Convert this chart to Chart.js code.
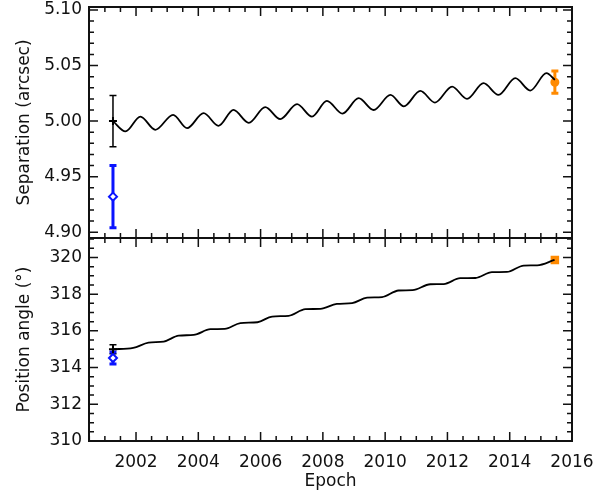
<!DOCTYPE html>
<html>
<head>
<meta charset="utf-8">
<script src="https://cdn.jsdelivr.net/npm/chart.js@4.4.0/dist/chart.umd.min.js"></script>
<style>
  html, body { margin: 0; padding: 0; background: #fff; }
  #wrap { position: relative; width: 609px; height: 492px; }
  #sepBox { position: absolute; left: 0; top: 0; width: 609px; height: 246px; }
  #paBox { position: absolute; left: 0; top: 230px; width: 609px; height: 262px; }
</style>
</head>
<body>
<div id="wrap">
  <div id="sepBox"><canvas id="sepChart"></canvas></div>
  <div id="paBox"><canvas id="paChart"></canvas></div>
</div>
<script>
// Orbit prediction, separation (arcsec) - at the wiggle extremes
const sepEpochs = [2001.26, 2001.66, 2002.14, 2002.62, 2003.19, 2003.64, 2004.17, 2004.65, 2005.13, 2005.62,
  2006.15, 2006.63, 2007.17, 2007.65, 2008.13, 2008.63, 2009.15, 2009.63, 2010.17, 2010.60,
  2011.13, 2011.60, 2012.15, 2012.63, 2013.16, 2013.64, 2014.18, 2014.66, 2015.18, 2015.45];
const sepValues = [5.000, 4.9907, 5.0041, 4.9922, 5.0057, 4.9937, 5.0072, 4.9958, 5.0101, 4.9985,
  5.0126, 5.0018, 5.0153, 5.0041, 5.0182, 5.0068, 5.0206, 5.0100, 5.0236, 5.0133,
  5.0272, 5.0167, 5.0311, 5.0200, 5.0341, 5.0236, 5.0386, 5.0275, 5.0431, 5.0371];

// Orbit prediction, position angle (deg)
const paEpochs = [2001.26, 2001.91, 2002.40, 2002.89, 2003.37, 2003.85, 2004.39, 2004.85, 2005.35, 2005.90,
  2006.37, 2006.90, 2007.44, 2007.92, 2008.45, 2008.94, 2009.42, 2009.90, 2010.43, 2010.88,
  2011.45, 2011.88, 2012.41, 2012.90, 2013.43, 2013.91, 2014.45, 2014.88, 2015.44];
const paValues = [315.00, 315.07, 315.36, 315.42, 315.74, 315.78, 316.09, 316.11, 316.42, 316.47,
  316.78, 316.82, 317.18, 317.20, 317.47, 317.51, 317.81, 317.84, 318.20, 318.22,
  318.54, 318.55, 318.87, 318.88, 319.20, 319.21, 319.56, 319.57, 319.87];

// Measurements: black, blue, orange
const obsEpochs = [2001.26, 2001.26, 2015.45];
const obsSep = [5.000, 4.932, 5.035];
const obsSepErr = [0.023, 0.028, 0.010];
const obsPA = [315.00, 314.52, 319.86];
const obsPAErr = [0.25, 0.33, 0.05];

// Tick labels
const epochTicks = [2002, 2004, 2006, 2008, 2010, 2012, 2014, 2016];
const sepTicks = [4.90, 4.95, 5.00, 5.05, 5.10];
const paTicks = [310, 312, 314, 316, 318, 320];

const FONT = { family: 'DejaVu Sans', size: 17 };
const INK = '#111';

// error bars, drawn under the markers
const errorBars = {
  id: 'errorBars',
  beforeDatasetsDraw(chart) {
    const { ctx, scales: { x, y } } = chart;
    ctx.save();
    chart.data.datasets.forEach(ds => {
      if (!ds.errors) return;
      ds.data.forEach((p, i) => {
        const px = x.getPixelForValue(p.x);
        const top = y.getPixelForValue(p.y + ds.errors[i]);
        const bot = y.getPixelForValue(p.y - ds.errors[i]);
        ctx.strokeStyle = ds.borderColor;
        ctx.lineWidth = ds.errWidth;
        ctx.beginPath();
        ctx.moveTo(px, top); ctx.lineTo(px, bot);
        ctx.moveTo(px - ds.capHalf, top); ctx.lineTo(px + ds.capHalf, top);
        ctx.moveTo(px - ds.capHalf, bot); ctx.lineTo(px + ds.capHalf, bot);
        ctx.stroke();
      });
    });
    ctx.restore();
  }
};

// IDL-style box with inward ticks on all four sides
const frameTicks = {
  id: 'frameTicks',
  afterDraw(chart, args, opts) {
    const { ctx, chartArea: a, scales: { x, y } } = chart;
    ctx.save();
    ctx.strokeStyle = INK;
    ctx.lineWidth = 1.5;
    const each = (scale, minor, major, fn) => {
      for (let k = Math.ceil(scale.min / minor - 1e-9); k * minor <= scale.max + 1e-9; k++) {
        const v = k * minor;
        const isMajor = Math.abs(v / major - Math.round(v / major)) < 1e-6;
        fn(scale.getPixelForValue(v), isMajor ? 9 : 5);
      }
    };
    ctx.beginPath();
    each(x, opts.xMinor, opts.xMajor, (p, len) => {
      ctx.moveTo(p, a.bottom); ctx.lineTo(p, a.bottom - len);
      ctx.moveTo(p, a.top); ctx.lineTo(p, a.top + len);
    });
    each(y, opts.yMinor, opts.yMajor, (p, len) => {
      ctx.moveTo(a.left, p); ctx.lineTo(a.left + len, p);
      ctx.moveTo(a.right, p); ctx.lineTo(a.right - len, p);
    });
    ctx.stroke();
    ctx.lineWidth = 2;
    ctx.strokeRect(a.left, a.top, a.right - a.left, a.bottom - a.top);
    ctx.restore();
  }
};

function obsSet(i, yVals, yErr, color, style, radius, fill, errWidth) {
  return {
    type: 'scatter',
    data: [{ x: obsEpochs[i], y: yVals[i] }],
    errors: [yErr[i]],
    borderColor: color,
    backgroundColor: fill,
    pointStyle: style,
    pointRadius: radius,
    pointBorderWidth: 2,
    errWidth: errWidth,
    capHalf: 3.5
  };
}

function makeChart(id, cfg) {
  const xScale = {
    type: 'linear', min: 2000.49, max: 2016,
    grid: { display: false, drawTicks: false }, border: { display: false },
    afterBuildTicks: s => { s.ticks = epochTicks.map(v => ({ value: v })); },
    ticks: { font: FONT, color: INK, padding: 11, callback: v => String(v), maxRotation: 0 },
    display: cfg.showX,
    title: { display: cfg.showX, text: 'Epoch', font: FONT, color: INK, padding: 0 }
  };
  if (cfg.showX) xScale.afterFit = s => { s.height = 51; };
  return new Chart(document.getElementById(id), {
    type: 'line',
    data: {
      datasets: [{
        data: cfg.curveX.map((e, i) => ({ x: e, y: cfg.curveY[i] })),
        borderColor: '#000', borderWidth: 1.8, pointRadius: 0,
        cubicInterpolationMode: 'monotone', fill: false
      }].concat(cfg.obs)
    },
    options: {
      animation: false,
      responsive: true,
      maintainAspectRatio: false,
      layout: { padding: { left: 0, right: 37, top: cfg.padTop, bottom: cfg.padBottom } },
      plugins: {
        legend: { display: false },
        tooltip: { enabled: false },
        frameTicks: { xMinor: 0.5, xMajor: 2, yMinor: cfg.yMinor, yMajor: cfg.yMajor }
      },
      scales: {
        x: xScale,
        y: {
          type: 'linear', min: cfg.yMin, max: cfg.yMax,
          grid: { display: false, drawTicks: false }, border: { display: false },
          afterBuildTicks: s => { s.ticks = cfg.yTicks.map(v => ({ value: v })); },
          afterFit: s => { s.width = 89; s.paddingTop = 0; s.paddingBottom = 0; },
          ticks: { font: FONT, color: INK, padding: 7, callback: cfg.fmt },
          title: { display: true, text: cfg.yTitle, font: FONT, color: INK, padding: { top: 14, bottom: 0 } }
        }
      }
    },
    plugins: [errorBars, frameTicks]
  });
}

makeChart('sepChart', {
  curveX: sepEpochs, curveY: sepValues,
  obs: [
    obsSet(0, obsSep, obsSepErr, '#000', 'cross', 4, '#000', 1.5),
    obsSet(1, obsSep, obsSepErr, '#0a14ff', 'rectRot', 4, '#fff', 3),
    obsSet(2, obsSep, obsSepErr, '#ff8a00', 'circle', 3.5, '#ff8a00', 3)
  ],
  yMin: 4.8948, yMax: 5.1027, yTicks: sepTicks, yMinor: 0.01, yMajor: 0.05,
  fmt: v => v.toFixed(2), yTitle: 'Separation (arcsec)',
  showX: false, padTop: 7, padBottom: 8
});

makeChart('paChart', {
  curveX: paEpochs, curveY: paValues,
  obs: [
    obsSet(0, obsPA, obsPAErr, '#000', 'cross', 4, '#000', 1.5),
    obsSet(1, obsPA, obsPAErr, '#0a14ff', 'rectRot', 4, '#fff', 3),
    obsSet(2, obsPA, obsPAErr, '#ff8a00', 'rect', 4.6, '#ff8a00', 3)
  ],
  yMin: 310, yMax: 321.06, yTicks: paTicks, yMinor: 0.5, yMajor: 2,
  fmt: v => String(v), yTitle: 'Position angle (\u00b0)',
  showX: true, padTop: 8, padBottom: 0
});
</script>
</body>
</html>
